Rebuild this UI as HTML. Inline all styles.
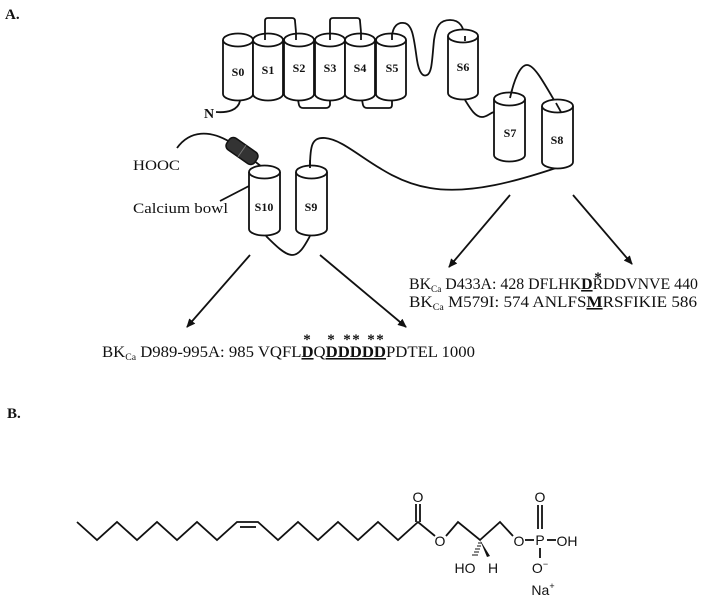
<!DOCTYPE html>
<html><head><meta charset="utf-8"><style>
html,body{margin:0;padding:0;background:#fff;}
svg{display:block;}
.t{font-family:"Liberation Serif",serif;fill:#111;}
.b{font-weight:bold;}
.s{font-family:"Liberation Sans",sans-serif;fill:#111;}
</style></head><body>
<svg width="727" height="603" viewBox="0 0 727 603" xmlns="http://www.w3.org/2000/svg">
<defs>
<marker id="ah" markerWidth="10" markerHeight="10" refX="8" refY="5" orient="auto" markerUnits="userSpaceOnUse">
<path d="M0,1 L9,5 L0,9 Z" fill="#111"/></marker>
</defs>
<text x="5" y="19" class="t b" font-size="15">A.</text>
<text x="7" y="418" class="t b" font-size="15">B.</text>

<g fill="none" stroke="#111" stroke-width="1.8">
<path d="M265,32 L265,21 Q265,18 268,18 L292,18 Q295,18 295,21 L296,32"/>
<path d="M330,32 L330,21 Q330,18 333,18 L357,18 Q360,18 360,21 L361,32"/>
<path d="M298,100 L299,105 Q300,108 303,108 L326,108 Q329,108 330,105 L330,100"/>
<path d="M362,100 L363,105 Q364,108 367,108 L389,108 Q392,108 392,105 L392,100"/>
<path d="M392,36 C393,26 398,22 404,23 C413,24 414,40 417,60 C419,73 423,77 427,75 C432,73 432,60 434,40 C436,26 440,20 450,20 C460,20 464,27 465,39"/>
<path d="M240,101 C238,110 228,113 216,112"/>
<path d="M465,100 C470,108 475,117 482,117 C487,117 490,113 494,112"/>
<path d="M510,98 C514,80 520,65 527,65 C535,65 545,85 561,112"/>
<path d="M556,168 C520,180 470,195 430,188 C380,180 350,140 325,138 C312,137 310,145 310,168"/>
<path d="M266,236 C275,245 285,255 292,255 C300,255 305,245 310,236"/>
<path d="M177,148 C190,130 210,130 230,142"/>
<path d="M253,160 L262,167"/>
<path d="M220,201 L249,186"/>
</g>
<g transform="translate(242,151) rotate(35)">
<rect x="-17" y="-7" width="34" height="14" rx="5" fill="#333" stroke="#111" stroke-width="1.5"/>
<line x1="0" y1="-7" x2="0" y2="7" stroke="#777" stroke-width="1"/>
</g>

<g fill="#fff" stroke="#111" stroke-width="1.8">
<path d="M223,40 L223,94 A15,6.5 0 0 0 253,94 L253,40"/><ellipse cx="238" cy="40" rx="15" ry="6.5"/>
<path d="M253,40 L253,94 A15,6.5 0 0 0 283,94 L283,40"/><ellipse cx="268" cy="40" rx="15" ry="6.5"/>
<path d="M284,40 L284,94 A15,6.5 0 0 0 314,94 L314,40"/><ellipse cx="299" cy="40" rx="15" ry="6.5"/>
<path d="M315,40 L315,94 A15,6.5 0 0 0 345,94 L345,40"/><ellipse cx="330" cy="40" rx="15" ry="6.5"/>
<path d="M345,40 L345,94 A15,6.5 0 0 0 375,94 L375,40"/><ellipse cx="360" cy="40" rx="15" ry="6.5"/>
<path d="M376,40 L376,94 A15,6.5 0 0 0 406,94 L406,40"/><ellipse cx="391" cy="40" rx="15" ry="6.5"/>
<path d="M448,36 L448,93 A15,6.5 0 0 0 478,93 L478,36"/><ellipse cx="463" cy="36" rx="15" ry="6.5"/>
<path d="M494,99 L494,155 A15.5,6.5 0 0 0 525,155 L525,99"/><ellipse cx="509.5" cy="99" rx="15.5" ry="6.5"/>
<path d="M542,106 L542,162 A15.5,6.5 0 0 0 573,162 L573,106"/><ellipse cx="557.5" cy="106" rx="15.5" ry="6.5"/>
<path d="M249,172 L249,229 A15.5,6.5 0 0 0 280,229 L280,172"/><ellipse cx="264.5" cy="172" rx="15.5" ry="6.5"/>
<path d="M296,172 L296,229 A15.5,6.5 0 0 0 327,229 L327,172"/><ellipse cx="311.5" cy="172" rx="15.5" ry="6.5"/>
</g>
<g fill="none" stroke="#111" stroke-width="1.8">
<path d="M265,32 L265,40"/><path d="M296,32 L296,40"/><path d="M330,32 L330,40"/><path d="M361,32 L361,40"/>
<path d="M392,33 L392,40"/><path d="M465,36 L465,41"/>
<path d="M512,90 L510,98"/><path d="M556,103 L561,112"/>
<path d="M310,160 L310,168"/>
</g>
<g class="t b" font-size="12" text-anchor="middle">
<text x="238" y="76">S0</text><text x="268" y="74">S1</text><text x="299" y="72">S2</text>
<text x="330" y="72">S3</text><text x="360" y="72">S4</text><text x="392" y="72">S5</text>
<text x="463" y="71">S6</text><text x="510" y="137">S7</text><text x="557" y="144">S8</text>
<text x="264" y="211">S10</text><text x="311" y="211">S9</text>
</g>
<text x="204" y="118" class="t b" font-size="14">N</text>
<text x="133" y="170" class="t" font-size="15" textLength="47" lengthAdjust="spacingAndGlyphs">HOOC</text>
<text x="133" y="213" class="t" font-size="15" textLength="95" lengthAdjust="spacingAndGlyphs">Calcium bowl</text>

<g stroke="#111" stroke-width="1.8" marker-end="url(#ah)">
<line x1="250" y1="255" x2="187" y2="327"/>
<line x1="320" y1="255" x2="406" y2="327"/>
<line x1="510" y1="195" x2="449" y2="267"/>
<line x1="573" y1="195" x2="632" y2="264"/>
</g>

<g class="t" font-size="15.5">
<text x="409" y="289" textLength="289" lengthAdjust="spacingAndGlyphs">BK<tspan font-size="9" dy="3">Ca</tspan><tspan dy="-3"> D433A: 428 DFLHK</tspan><tspan font-weight="bold" text-decoration="underline">D</tspan>RDDVNVE 440</text>
<text x="409" y="307" textLength="288" lengthAdjust="spacingAndGlyphs">BK<tspan font-size="9" dy="3">Ca</tspan><tspan dy="-3"> M579I:  574 ANLFS</tspan><tspan font-weight="bold" text-decoration="underline">M</tspan>RSFIKIE 586</text>
<text x="102" y="357" textLength="373" lengthAdjust="spacingAndGlyphs">BK<tspan font-size="9" dy="3">Ca</tspan><tspan dy="-3"> D989-995A: 985 VQFL</tspan><tspan font-weight="bold" text-decoration="underline">D</tspan>Q<tspan font-weight="bold" text-decoration="underline">DDDDD</tspan>PDTEL 1000</text>
</g>
<g class="t b" font-size="15" text-anchor="middle">
<text x="598" y="282">*</text>
<text x="307" y="344">*</text><text x="331" y="344">*</text><text x="347" y="344">*</text><text x="356" y="344">*</text><text x="371" y="344">*</text><text x="380" y="344">*</text>
</g>

<g fill="none" stroke="#111" stroke-width="1.8" stroke-linejoin="miter">
<polyline points="77,522 97,540 117,522 137,540 157,522 177,540 197,522 217,540 237,522 258,522 278,540 298,522 318,540 338,522 358,540 378,522 398,540 418,522 435,536"/>
<line x1="240" y1="527" x2="256" y2="527"/>
<line x1="416" y1="522" x2="416" y2="504"/><line x1="420" y1="522" x2="420" y2="504"/>
<polyline points="446,536 458,522 480,540 500,522 513,536"/>
<line x1="525" y1="540" x2="534" y2="540"/>
<line x1="547" y1="540" x2="556" y2="540"/>
<line x1="538" y1="505" x2="538" y2="529"/><line x1="542" y1="505" x2="542" y2="529"/>
<line x1="540" y1="548" x2="540" y2="558"/>
</g>
<path d="M480,540 L487,557 L490,556 Z" fill="#111"/>
<g stroke="#111" stroke-width="1">
<line x1="478" y1="543" x2="482" y2="543"/><line x1="477" y1="546" x2="481" y2="546"/><line x1="475" y1="549" x2="480" y2="549"/><line x1="474" y1="552" x2="479" y2="552"/><line x1="472" y1="555" x2="478" y2="555"/>
</g>
<g class="s" font-size="14" text-anchor="middle">
<text x="418" y="502">O</text>
<text x="440" y="546">O</text>
<text x="519" y="546">O</text>
<text x="540" y="545">P</text>
<text x="567" y="546">OH</text>
<text x="540" y="502">O</text>
<text x="540" y="573">O<tspan font-size="9" dy="-6">−</tspan></text>
<text x="465" y="573">HO</text>
<text x="493" y="573">H</text>
<text x="543" y="595">Na<tspan font-size="9" dy="-6">+</tspan></text>
</g>
</svg>
</body></html>
